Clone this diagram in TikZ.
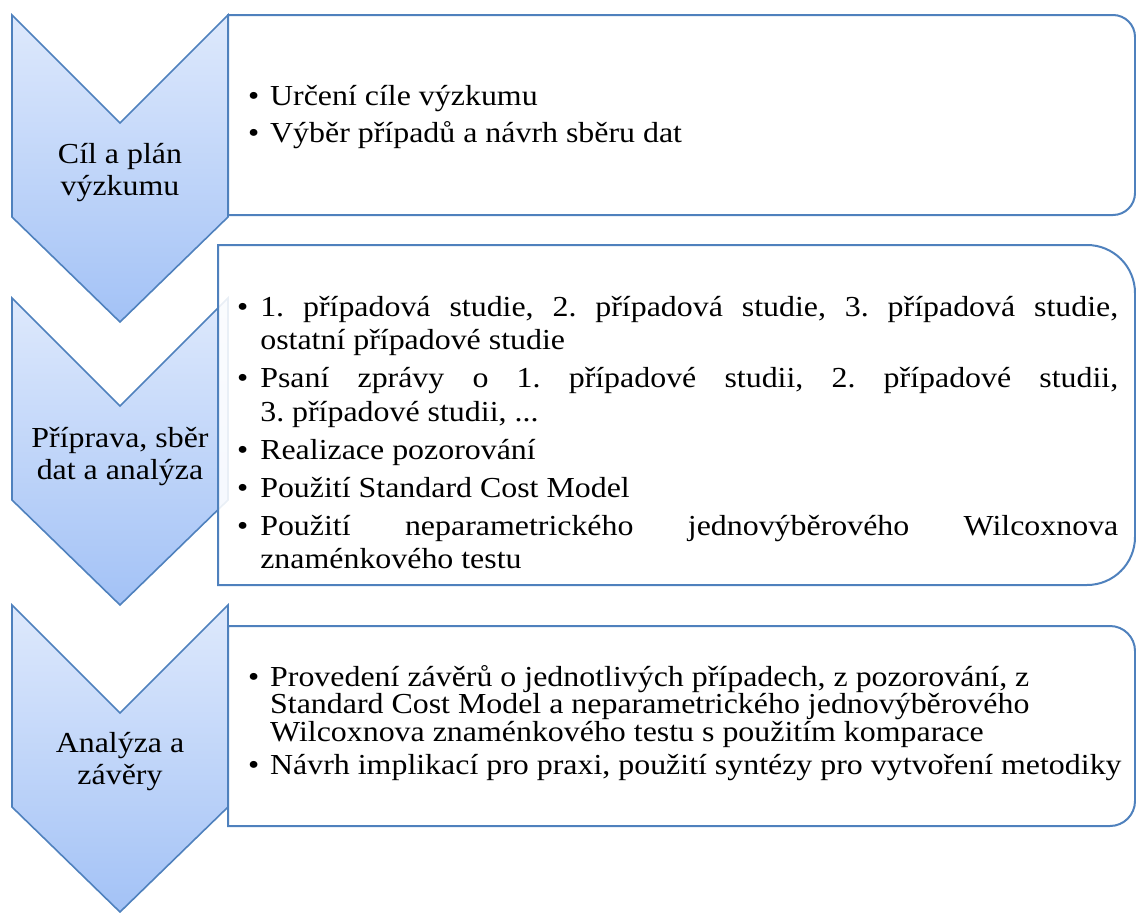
\documentclass[tikz,border=0pt]{standalone}
\usepackage{graphicx}
\usepackage{fontspec}
\setmainfont{Liberation Serif}
\definecolor{accent}{RGB}{79,129,189}
\definecolor{chevtop}{RGB}{222,233,252}
\definecolor{chevbot}{RGB}{163,194,246}
\newlength\bulw
\newcommand\bitem[1]{\noindent\hangindent=\bulw\hangafter=1\hbox to \bulw{\textbullet\hfil}#1\par}
\newcommand\hs[2]{\scalebox{1.1}[1]{\parbox[t]{#1}{\frenchspacing #2}}}
\newcommand\chevshape[1]{%
  \draw[chev] (12,#1) -- (120,#1+108) -- (228,#1) -- (228,#1+202) -- (120,#1+307) -- (12,#1+202) -- cycle;}
\newcommand\roundbox[4]{%
  \draw[tbox] (#1,#2) -- ({1135-#4},#2) arc[start angle=-90,end angle=0,radius=#4]
    -- (1135,{#3-#4}) arc[start angle=0,end angle=90,radius=#4] -- (#1,#3) -- cycle;}
\tikzset{
  chev/.style={draw=accent,line width=1.6pt,top color=chevtop,bottom color=chevbot,line join=miter},
  tbox/.style={draw=accent,line width=2pt,fill=white,fill opacity=0.88},
  chevlabel/.style={inner sep=0pt,anchor=base},
  boxtext/.style={inner sep=0pt,anchor=base west},
}
\begin{document}
\begin{tikzpicture}[x=1pt,y=-1pt]
\useasboundingbox (0,0) rectangle (1136,913);
% row 1
\chevshape{15}
\roundbox{228}{15}{215}{22}
\node[chevlabel] (c1) at (120,163) {\hs{190pt}{\centering\fontsize{29}{32}\selectfont Cíl a plán\\výzkumu}};
\node[boxtext] (b1) at (248,105) {\hs{790pt}{\fontsize{29}{34}\selectfont\lineskiplimit=-100pt\raggedright\setlength\bulw{20pt}%
  \bitem{Určení cíle výzkumu}\vskip3pt
  \bitem{Výběr případů a návrh sběru dat}}};
% row 2
\chevshape{298}
\roundbox{218}{245}{585}{48}
\node[chevlabel] (c2) at (120,447) {\hs{190pt}{\centering\fontsize{29}{32}\selectfont Příprava, sběr\\dat a analýza}};
\node[boxtext] (b2) at (237,316) {\hs{801pt}{\fontsize{29}{33.5}\selectfont\lineskiplimit=-100pt\hbadness=10000\hyphenpenalty=10000\setlength\bulw{21pt}%
  \bitem{1. případová studie, 2. případová studie, 3. případová studie,\linebreak ostatní případové studie}\vskip4.5pt
  \bitem{Psaní zprávy o 1. případové studii, 2. případové studii,\linebreak 3. případové studii, ...}\vskip4.5pt
  \bitem{Realizace pozorování}\vskip4.5pt
  \bitem{Použití Standard Cost Model}\vskip4.5pt
  \bitem{Použití neparametrického jednovýběrového Wilcoxnova\linebreak znaménkového testu}}};
% row 3
\chevshape{605}
\roundbox{228}{626}{826}{25}
\node[chevlabel] (c3) at (120,752) {\hs{190pt}{\centering\fontsize{29}{32}\selectfont Analýza a\\závěry}};
\node[boxtext] (b3) at (248,686) {\hs{800pt}{\fontsize{29}{27.5}\selectfont\lineskiplimit=-100pt\raggedright\hbadness=10000\setlength\bulw{20pt}%
  \bitem{Provedení závěrů o jednotlivých případech, z pozorování, z\newline Standard Cost Model a neparametrického jednovýběrového\newline Wilcoxnova znaménkového testu s použitím komparace}\vskip6pt
  \bitem{Návrh implikací pro praxi, použití syntézy pro vytvoření metodiky}}};
\end{tikzpicture}
\end{document}
